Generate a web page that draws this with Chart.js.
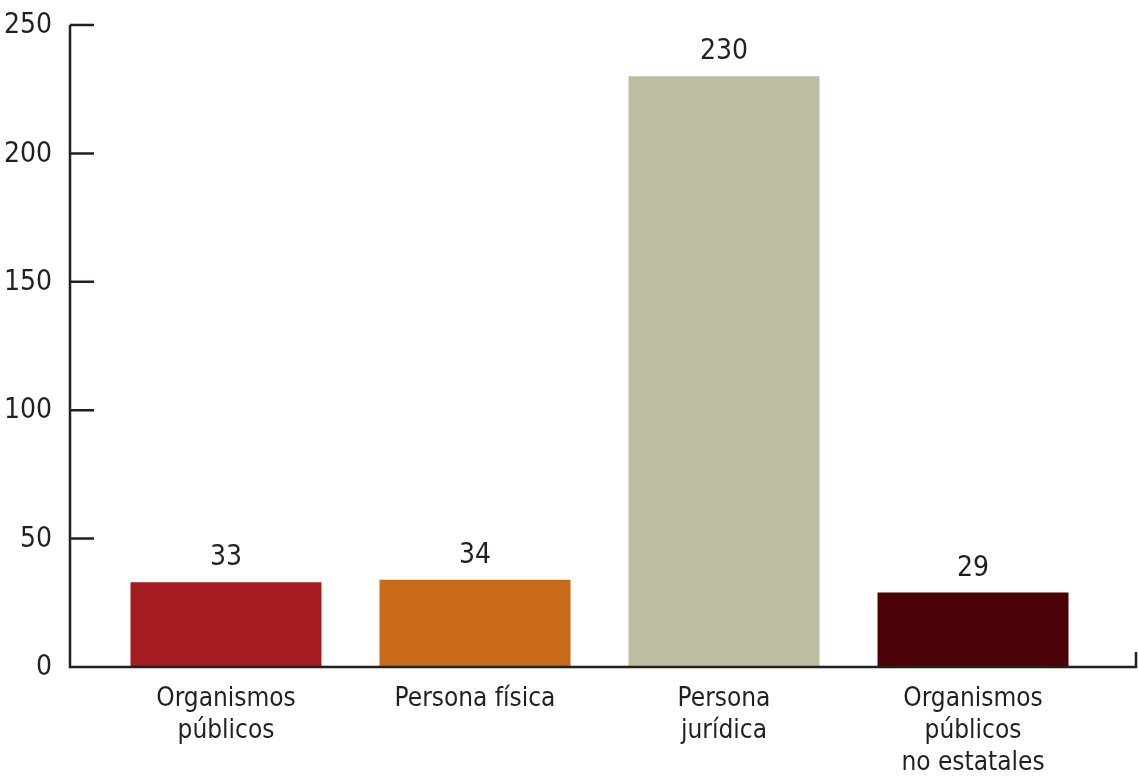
<!DOCTYPE html>
<html>
<head>
<meta charset="utf-8">
<script src="https://cdn.jsdelivr.net/npm/chart.js@4.4.1/dist/chart.umd.min.js"></script>
<style>
  html, body { margin: 0; padding: 0; background: #fff; }
  #wrap { width: 1139px; height: 778px; }
</style>
</head>
<body>
<div id="wrap"><canvas id="barChart"></canvas></div>
<script>
const categories = [
    ['Organismos', 'públicos'],
    'Persona física',
    ['Persona', 'jurídica'],
    ['Organismos', 'públicos', 'no estatales']
];
const values = [33, 34, 230, 29];
const barColors = ['#A51C20', '#C96A18', '#BEBDA2', '#4B0207'];
const yTicks = [0, 50, 100, 150, 200, 250];

const fontFamily = "'Liberation Sans Narrow', 'DejaVu Sans Condensed', 'Roboto Condensed', sans-serif";
const inkColor = '#231F20';

// axis lines with inward ticks, y tick labels and value labels
const axisAndLabels = {
    id: 'axisAndLabels',
    afterDatasetsDraw(chart) {
        const ctx = chart.ctx;
        const y = chart.scales.y;
        const area = chart.chartArea;
        const axisX = area.left - 31.5;
        const base = y.getPixelForValue(0);
        ctx.save();
        ctx.strokeStyle = inkColor;
        ctx.lineWidth = 2.5;
        ctx.beginPath();
        ctx.moveTo(axisX, y.getPixelForValue(250));
        ctx.lineTo(axisX, base);
        ctx.lineTo(chart.width - 3, base);
        ctx.lineTo(chart.width - 3, base - 15);
        yTicks.forEach(v => {
            if (v === 0) return;
            const py = y.getPixelForValue(v);
            ctx.moveTo(axisX, py);
            ctx.lineTo(axisX + 24, py);
        });
        ctx.stroke();

        ctx.fillStyle = inkColor;
        ctx.font = '28px ' + fontFamily;
        ctx.textAlign = 'right';
        ctx.textBaseline = 'middle';
        yTicks.forEach(v => {
            ctx.fillText(v, axisX - 18, y.getPixelForValue(v) + 1);
        });

        ctx.textAlign = 'center';
        ctx.textBaseline = 'alphabetic';
        const meta = chart.getDatasetMeta(0);
        meta.data.forEach((bar, i) => {
            ctx.fillText(values[i], bar.x, bar.y - 17);
        });
        ctx.restore();
    }
};

const ctx = document.getElementById('barChart').getContext('2d');
const barChart = new Chart(ctx, {
    type: 'bar',
    data: {
        labels: categories,
        datasets: [{
            data: values,
            backgroundColor: barColors,
            borderWidth: 0,
            barPercentage: 0.767,
            categoryPercentage: 1
        }]
    },
    options: {
        responsive: true,
        maintainAspectRatio: false,
        animation: false,
        layout: { padding: { top: 25, right: 41.5, left: 0, bottom: 0 } },
        plugins: {
            legend: { display: false },
            tooltip: { enabled: false }
        },
        scales: {
            x: {
                grid: { display: false },
                border: { display: false },
                ticks: {
                    color: inkColor,
                    padding: 8,
                    maxRotation: 0,
                    autoSkip: false,
                    font: { family: fontFamily, size: 26, lineHeight: 1.23 }
                },
                afterFit(scale) { scale.height = 111; }
            },
            y: {
                min: 0,
                max: 250,
                grid: { display: false },
                border: { display: false },
                ticks: { display: false },
                afterFit(scale) { scale.width = 101.5; }
            }
        }
    },
    plugins: [axisAndLabels]
});
</script>
</body>
</html>
